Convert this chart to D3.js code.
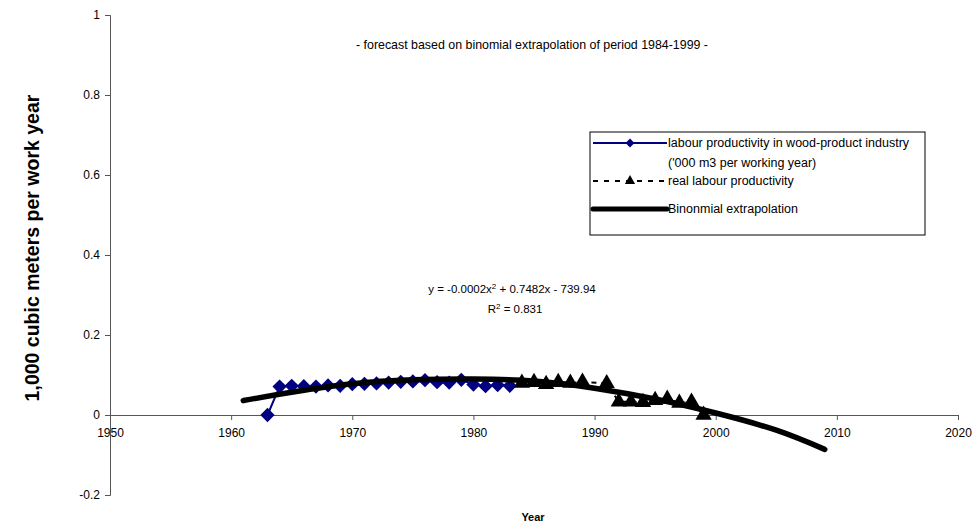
<!DOCTYPE html>
<html>
<head>
<meta charset="utf-8">
<script src="https://cdn.jsdelivr.net/npm/d3@7"></script>
<style>
  body { margin: 0; background: #fff; }
  text { font-family: "Liberation Sans", Arial, sans-serif; fill: #000; }
</style>
</head>
<body>
<div id="chart"></div>
<script>
// labour productivity in wood-product industry ('000 m3 per working year)
var woodYears = [1963, 1964, 1965, 1966, 1967, 1968, 1969, 1970, 1971, 1972, 1973,
                 1974, 1975, 1976, 1977, 1978, 1979, 1980, 1981, 1982, 1983];
var woodValues = [0.0, 0.071, 0.073, 0.072, 0.071, 0.074, 0.073, 0.077, 0.078, 0.079, 0.081,
                  0.083, 0.084, 0.087, 0.082, 0.081, 0.088, 0.076, 0.072, 0.075, 0.073];

// real labour productivity
var realYears = [1984, 1985, 1986, 1987, 1988, 1989, 1991, 1992, 1993, 1994, 1995, 1996, 1997, 1998, 1999];
var realValues = [0.080, 0.082, 0.077, 0.082, 0.080, 0.083, 0.079, 0.033, 0.033, 0.032, 0.037, 0.040, 0.030, 0.033, 0.0];

// binomial extrapolation
var trendYears = [1961, 1965, 1970, 1975, 1980, 1985, 1990, 1995, 2000, 2005, 2009];
var trendValues = [0.036, 0.057, 0.078, 0.088, 0.090, 0.085, 0.067, 0.040, 0.005, -0.038, -0.086];

var xTicks = [1950, 1960, 1970, 1980, 1990, 2000, 2010, 2020];
var yTicks = [-0.2, 0, 0.2, 0.4, 0.6, 0.8, 1];
var yTickLabels = ["-0.2", "0", "0.2", "0.4", "0.6", "0.8", "1"];

var legendLabels = [
  ["labour productivity in wood-product industry", "('000 m3 per working year)"],
  ["real labour productivity"],
  ["Binonmial extrapolation"]
];

var W = 974, H = 525;

var svg = d3.select("#chart")
  .append("svg")
    .attr("width", W)
    .attr("height", H);

var x = d3.scaleLinear().domain([1950, 2020]).range([110, 958]);
var y = d3.scaleLinear().domain([-0.2, 1]).range([495, 15]);

// X axis at y = 0
var xAxis = svg.append("g")
  .attr("transform", "translate(0," + y(0) + ")")
  .call(d3.axisBottom(x).tickValues(xTicks).tickFormat(d3.format("d")).tickSize(5).tickPadding(8));
xAxis.selectAll("text").style("font-size", "12px");

// Y axis
var yAxis = svg.append("g")
  .attr("transform", "translate(" + x(1950) + ",0)")
  .call(d3.axisLeft(y).tickValues(yTicks)
    .tickFormat(function(d, i) { return yTickLabels[i]; })
    .tickSize(5).tickPadding(5));
yAxis.selectAll("text").style("font-size", "12px");

svg.selectAll(".domain, .tick line").attr("stroke", "#555");

// blue series
var woodData = woodYears.map(function(d, i) { return [d, woodValues[i]]; });
svg.append("path")
  .datum(woodData)
  .attr("fill", "none")
  .attr("stroke", "#000080")
  .attr("stroke-width", 2)
  .attr("d", d3.line().x(function(d) { return x(d[0]); }).y(function(d) { return y(d[1]); }));

var diamond = d3.symbol().type(d3.symbolDiamond2).size(130);
svg.selectAll("path.wood")
  .data(woodData)
  .enter()
  .append("path")
    .attr("class", "wood")
    .attr("d", diamond)
    .attr("transform", function(d) { return "translate(" + x(d[0]) + "," + y(d[1]) + ")"; })
    .attr("fill", "#000080");

// real labour productivity (dashed, triangles)
var realData = realYears.map(function(d, i) { return [d, realValues[i]]; });
svg.append("path")
  .datum(realData)
  .attr("fill", "none")
  .attr("stroke", "#000")
  .attr("stroke-width", 2)
  .attr("stroke-dasharray", "5,5")
  .attr("d", d3.line().x(function(d) { return x(d[0]); }).y(function(d) { return y(d[1]); }));

var tri = d3.symbol().type(d3.symbolTriangle).size(115);
svg.selectAll("path.real")
  .data(realData)
  .enter()
  .append("path")
    .attr("class", "real")
    .attr("d", tri)
    .attr("transform", function(d) { return "translate(" + x(d[0]) + "," + y(d[1]) + ")"; })
    .attr("fill", "#000");

// trend line
var trendData = trendYears.map(function(d, i) { return [d, trendValues[i]]; });
svg.append("path")
  .datum(trendData)
  .attr("fill", "none")
  .attr("stroke", "#000")
  .attr("stroke-width", 5.5)
  .attr("stroke-linecap", "round")
  .attr("d", d3.line().curve(d3.curveNatural).x(function(d) { return x(d[0]); }).y(function(d) { return y(d[1]); }));

// texts
svg.append("text")
  .attr("x", 532)
  .attr("y", 49)
  .attr("text-anchor", "middle")
  .style("font-size", "12.4px")
  .text("- forecast based on binomial extrapolation of period 1984-1999 -");

var eq = svg.append("text")
  .attr("x", 512)
  .attr("y", 293)
  .attr("text-anchor", "middle")
  .style("font-size", "11.5px");
eq.append("tspan").text("y = -0.0002x");
eq.append("tspan").attr("dy", -4).style("font-size", "8px").text("2");
eq.append("tspan").attr("dy", 4).text(" + 0.7482x - 739.94");

var r2 = svg.append("text")
  .attr("x", 515)
  .attr("y", 313)
  .attr("text-anchor", "middle")
  .style("font-size", "11.5px");
r2.append("tspan").text("R");
r2.append("tspan").attr("dy", -4).style("font-size", "8px").text("2");
r2.append("tspan").attr("dy", 4).text(" = 0.831");

svg.append("text")
  .attr("transform", "translate(39,248) rotate(-90)")
  .attr("text-anchor", "middle")
  .style("font-size", "19.5px")
  .style("font-weight", "bold")
  .text("1,000 cubic meters per work year");

svg.append("text")
  .attr("x", 533)
  .attr("y", 521)
  .attr("text-anchor", "middle")
  .style("font-size", "11px")
  .style("font-weight", "bold")
  .text("Year");

// legend
var lg = svg.append("g");
lg.append("rect")
  .attr("x", 590).attr("y", 132)
  .attr("width", 335).attr("height", 103)
  .attr("fill", "#fff")
  .attr("stroke", "#000")
  .attr("stroke-width", 1);

var legendY = [143, 181, 209];

lg.append("line").attr("x1", 593).attr("x2", 667).attr("y1", legendY[0]).attr("y2", legendY[0])
  .attr("stroke", "#000080").attr("stroke-width", 2);
lg.append("path").attr("d", d3.symbol().type(d3.symbolDiamond2).size(50))
  .attr("transform", "translate(630," + legendY[0] + ")").attr("fill", "#000080");

lg.append("line").attr("x1", 593).attr("x2", 667).attr("y1", legendY[1]).attr("y2", legendY[1])
  .attr("stroke", "#000").attr("stroke-width", 2).attr("stroke-dasharray", "5,6");
lg.append("path").attr("d", d3.symbol().type(d3.symbolTriangle).size(45))
  .attr("transform", "translate(630," + legendY[1] + ")").attr("fill", "#000");

lg.append("line").attr("x1", 593).attr("x2", 667).attr("y1", legendY[2]).attr("y2", legendY[2])
  .attr("stroke", "#000").attr("stroke-width", 5).attr("stroke-linecap", "round");

legendLabels.forEach(function(lines, i) {
  lines.forEach(function(t, j) {
    lg.append("text")
      .attr("x", 668)
      .attr("y", legendY[i] + 4 + j * 20)
      .style("font-size", "12.5px")
      .text(t);
  });
});
</script>
</body>
</html>
